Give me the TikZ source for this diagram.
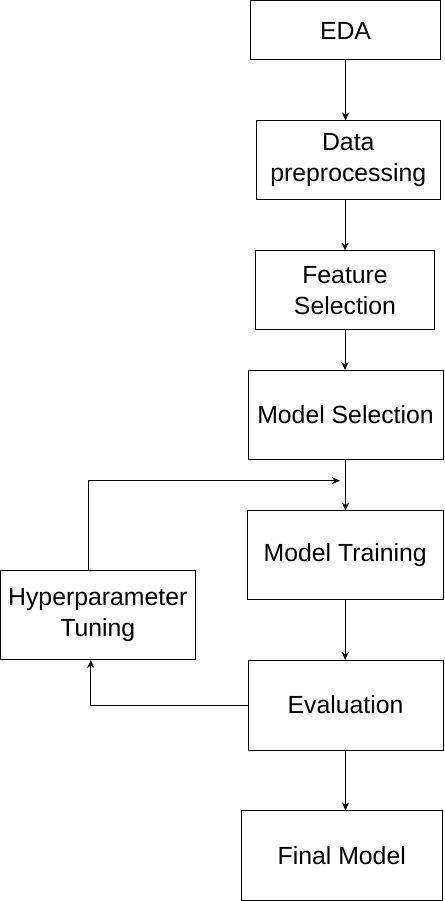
\documentclass[tikz,border=0pt]{standalone}
\usepackage{fontspec}
\setmainfont{Liberation Sans}
\usetikzlibrary{arrows.meta}
\begin{document}
\begin{tikzpicture}[x=1pt,y=-1pt,
  box/.style={draw,line width=1pt,align=center,inner sep=0pt,outer sep=0pt,
    font=\fontsize{24.8}{31}\selectfont,execute at begin node={\vspace*{5pt}}},
  arr/.style={-{Stealth[length=8pt,width=7pt,inset=2.5pt]},line width=1pt}]
\useasboundingbox (0,0) rectangle (444,901);
\node[box,minimum width=190pt,minimum height=59pt] (eda) at (345.5,30.5) {EDA};
\node[box,minimum width=184.5pt,minimum height=79.5pt] (data) at (348.25,160.25) {Data\\preprocessing};
\node[box,minimum width=179.4pt,minimum height=79.3pt] (feat) at (345,290.3) {Feature\\Selection};
\node[box,minimum width=195pt,minimum height=89.3pt] (msel) at (345.5,414.7) {Model Selection};
\node[box,minimum width=195.5pt,minimum height=89.3pt] (mtrain) at (345.25,555.3) {Model Training};
\node[box,minimum width=195pt,minimum height=90pt] (eval) at (345.5,705) {Evaluation};
\node[box,minimum width=201.5pt,minimum height=89.5pt] (final) at (341.75,855.25) {Final Model};
\node[box,minimum width=194.5pt,minimum height=89.3pt] (hyp) at (97.75,615.3) {Hyperparameter\\Tuning};
\coordinate (j) at (340,480.7);
\draw[arr] (eda.south) -- (eda.south |- data.north);
\draw[arr] (feat.north |- data.south) -- (feat.north);
\draw[arr] (feat.south) -- (feat.south |- msel.north);
\draw[arr] (msel.south) -- (msel.south |- mtrain.north);
\draw[arr] (mtrain.south) -- (mtrain.south |- eval.north);
\draw[arr] (eval.south) -- (eval.south |- final.north);
\draw[arr] ([xshift=-9.25pt]hyp.north) |- (j);
\draw[arr] (eval.west) -| ([xshift=-7pt]hyp.south);
\end{tikzpicture}
\end{document}
